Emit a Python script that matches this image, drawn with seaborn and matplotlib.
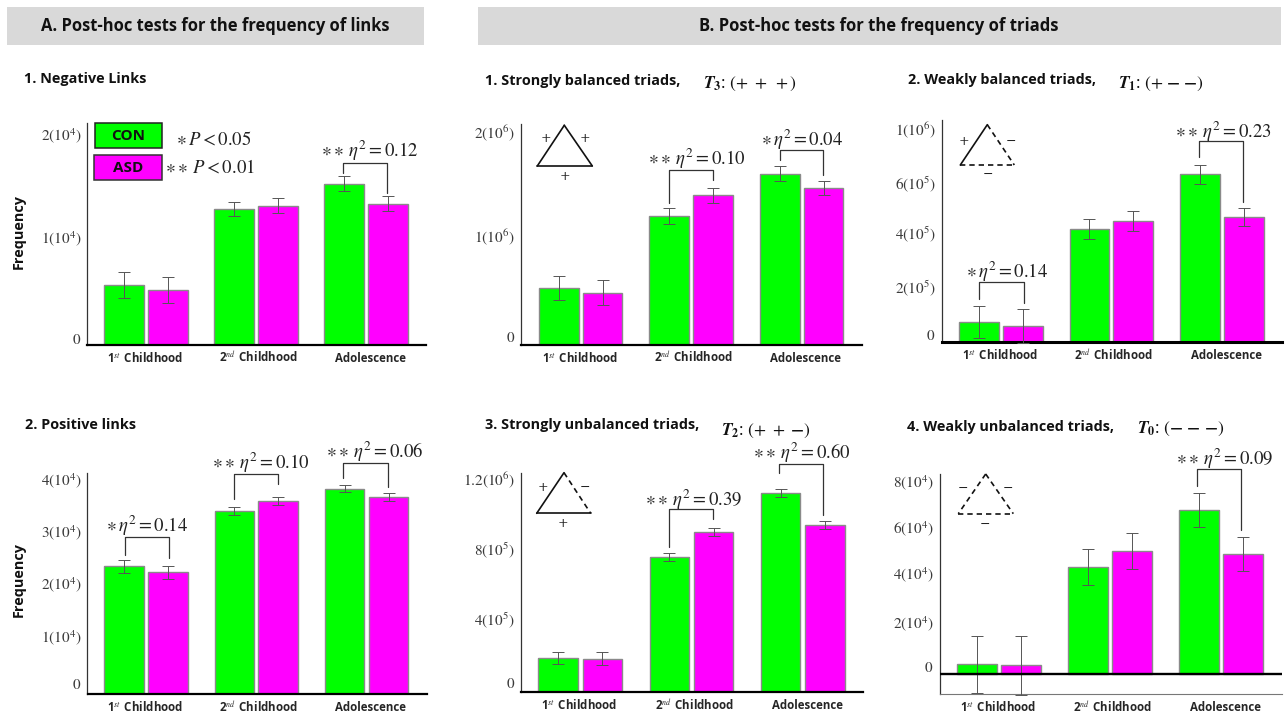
import matplotlib
matplotlib.use("Agg")
import matplotlib.pyplot as plt
from matplotlib.lines import Line2D
from matplotlib.patches import Rectangle
from matplotlib.transforms import ScaledTranslation
import pandas as pd
import seaborn as sns

sns.set_style("white")
plt.rcParams["font.family"] = ["Open Sans", "DejaVu Sans"]
plt.rcParams["mathtext.fontset"] = "stix"

W, H = 1285, 715
GREEN, MAGENTA = "#00ff00", "#ff00ff"

stages = [r"1$^{st}\,$ Childhood", r"2$^{nd}\,$ Childhood", "Adolescence"]
groups = ["CON", "ASD"]

# values
neg_con = [5840, 13240, 15680]
neg_asd = [5330, 13560, 13760]
neg_con_err = [1220, 700, 730]
neg_asd_err = [1280, 710, 730]

pos_con = [24380, 34860, 39160]
pos_asd = [23240, 36760, 37520]
pos_con_err = [1200, 760, 670]
pos_asd_err = [1240, 760, 760]

t3_con = [553000, 1250000, 1660000]
t3_asd = [505000, 1450000, 1519000]
t3_con_err = [118000, 74000, 71000]
t3_asd_err = [123000, 73000, 68000]

t1_con = [76900, 434600, 646000]
t1_asd = [61500, 466500, 482000]
t1_con_err = [61500, 37800, 35300]
t1_asd_err = [65400, 37800, 35900]

t2_con = [196000, 775000, 1139000]
t2_asd = [192000, 916000, 956000]
t2_con_err = [37100, 22900, 21000]
t2_asd_err = [38000, 21900, 22900]

t0_con = [4260, 45630, 69940]
t0_asd = [3840, 52700, 51300]
t0_con_err = [12150, 7600, 7180]
t0_asd_err = [12580, 7600, 7250]


def fx(x):
    return x / W


def fy(y):
    return 1 - y / H


# axis geometry in px: left, right, top, bottom, zero line, first group centre, spacing, px per unit
panels = [
    dict(con=neg_con, asd=neg_asd, ce=neg_con_err, ae=neg_asd_err, L=87.5, R=426, T=123.3, B=345, Z=345,
         c0=146, step=110, ppu=102.7 / 1e4, ticks=[0, 1e4, 2e4],
         labels=["$0$", "$1(10^{4})$", "$2(10^{4})$"], offs=[6.7, 6.3, 6.6], lw=1.6),
    dict(con=pos_con, asd=pos_asd, ce=pos_con_err, ae=pos_asd_err, L=87.5, R=427, T=472.7, B=694.3, Z=694.3,
         c0=146, step=110.3, ppu=52.5 / 1e4, ticks=[0, 1e4, 2e4, 3e4, 4e4],
         labels=["$0$", "$1(10^{4})$", "$2(10^{4})$", "$3(10^{4})$", "$4(10^{4})$"],
         offs=[11, 6.5, 7, 6.8, 6.6], lw=1.6),
    dict(con=t3_con, asd=t3_asd, ce=t3_con_err, ae=t3_asd_err, L=521.3, R=862.3, T=124, B=344.7, Z=344.7,
         c0=580.7, step=110.5, ppu=103 / 1e6, ticks=[0, 1e6, 2e6],
         labels=["$0$", "$1(10^{6})$", "$2(10^{6})$"], offs=[8.7, 7.4, 8.4], lw=1.6),
    dict(con=t1_con, asd=t1_asd, ce=t1_con_err, ae=t1_asd_err, L=941.7, R=1282.3, T=120, B=342.3, Z=342.3,
         c0=1000.8, step=110.5, ppu=26 / 1e5, ticks=[0, 2e5, 4e5, 6e5, 8e5],
         labels=["$0$", "$2(10^{5})$", "$4(10^{5})$", "$6(10^{5})$", "$1(10^{6})$"],
         offs=[8.3, 4.3, 6, 4, 6.6], lw=2.2),
    dict(con=t2_con, asd=t2_asd, ce=t2_con_err, ae=t2_asd_err, L=521, R=863.3, T=472.7, B=692.3, Z=692.3,
         c0=580.3, step=111.2, ppu=17.5 / 1e5, ticks=[0, 4e5, 8e5, 1.2e6],
         labels=["$0$", "$4(10^{5})$", "$8(10^{5})$", "$1.2(10^{6})$"], offs=[9.6, 4.6, 4.6, 4.6], lw=1.6),
    dict(con=t0_con, asd=t0_asd, ce=t0_con_err, ae=t0_asd_err, L=939.7, R=1282.3, T=474, B=694.3, Z=674.3,
         c0=998.8, step=111, ppu=23.45 / 1e4, ticks=[0, 2e4, 4e4, 6e4, 8e4],
         labels=["$0$", "$2(10^{4})$", "$4(10^{4})$", "$6(10^{4})$", "$8(10^{4})$"],
         offs=[7.3, 6.7, 8.2, 7.6, 6.7], lw=1.0),
]

xlabel_offs = [-1, 2.6, 4.3]

fig = plt.figure(figsize=(W / 100, H / 100), dpi=100, facecolor="white")

for p in panels:
    ax = fig.add_axes([fx(p["L"]), fy(p["B"]), (p["R"] - p["L"]) / W, (p["B"] - p["T"]) / H])
    df = pd.DataFrame({
        "stage": stages * 2,
        "group": [groups[0]] * 3 + [groups[1]] * 3,
        "value": p["con"] + p["asd"],
    })
    sns.barplot(data=df, x="stage", y="value", hue="group", order=stages, hue_order=groups,
                palette=[GREEN, MAGENTA], saturation=1, width=0.795, gap=0.1, errorbar=None, legend=False,
                edgecolor="#8a8a8a", linewidth=1.0, ax=ax, zorder=2)
    for cont, errs in zip(ax.containers, [p["ce"], p["ae"]]):
        for bar, e in zip(cont, errs):
            ax.errorbar(bar.get_x() + bar.get_width() / 2, bar.get_height(), yerr=e, color="#555555",
                        elinewidth=0.7, capsize=4.3, capthick=0.7, zorder=3, clip_on=False)
    ax.set_xlim((p["L"] - p["c0"]) / p["step"], (p["R"] - p["c0"]) / p["step"])
    ax.set_ylim((p["Z"] - p["B"]) / p["ppu"], (p["Z"] - p["T"]) / p["ppu"])
    ax.set_xlabel("")
    ax.set_ylabel("")
    ax.set_yticks(p["ticks"], p["labels"])
    ax.set_xticks(range(3), stages)
    ax.tick_params(axis="y", length=0, pad=4.5, labelsize=11, labelcolor="#3a3a3a")
    ax.tick_params(axis="x", length=0, pad=12.2, labelsize=8.3)
    for lab, off in zip(ax.get_yticklabels(), p["offs"]):
        lab.set_transform(lab.get_transform() + ScaledTranslation(0, off / 100, fig.dpi_scale_trans))
    for lab, off in zip(ax.get_xticklabels(), xlabel_offs):
        lab.set_fontweight("bold")
        lab.set_va("baseline")
        lab.set_transform(lab.get_transform() + ScaledTranslation(off / 100, 0, fig.dpi_scale_trans))
    for s in ["top", "right"]:
        ax.spines[s].set_visible(False)
    ax.spines["left"].set_color("#333333")
    ax.spines["left"].set_linewidth(0.9)
    if p["Z"] == p["B"]:
        ax.spines["bottom"].set_color("black")
        ax.spines["bottom"].set_linewidth(p["lw"])
    else:
        ax.spines["bottom"].set_color("#777777")
        ax.spines["bottom"].set_linewidth(0.8)
        ax.axhline(0, color="black", lw=1.7, zorder=4)
    ax.patch.set_alpha(0)


def text(x, y, s, **kw):
    kw.setdefault("ha", "center")
    kw.setdefault("va", "center")
    fig.text(fx(x), fy(y), s, **kw)


def line(xs, ys, **kw):
    kw.setdefault("color", "#333333")
    kw.setdefault("lw", 0.9)
    fig.add_artist(Line2D([fx(x) for x in xs], [fy(y) for y in ys], transform=fig.transFigure, **kw))


def box(x0, y0, x1, y1, **kw):
    fig.add_artist(Rectangle((fx(x0), fy(y1)), (x1 - x0) / W, (y1 - y0) / H, transform=fig.transFigure, **kw))


# section headers
box(7, 7, 424, 45, facecolor="#d9d9d9", edgecolor="none", zorder=0)
box(478, 7, 1281, 45, facecolor="#d9d9d9", edgecolor="none", zorder=0)
text(215, 26, "A. Post-hoc tests for the frequency of links", fontsize=11.9, fontweight="bold", color="#111111")
text(879, 26, "B. Post-hoc tests for the frequency of triads", fontsize=12, fontweight="bold", color="#111111")

# panel titles
titles = [
    (24.3, 79, "1. Negative Links"),
    (25, 425, "2. Positive links"),
    (485, 81, "1. Strongly balanced triads,"),
    (907.7, 80, "2. Weakly balanced triads,"),
    (485, 425.5, "3. Strongly unbalanced triads,"),
    (906.7, 426.5, "4. Weakly unbalanced triads,"),
]
for x, y, s in titles:
    text(x, y, s, ha="left", fontsize=10.4, fontweight="bold", color="#111111")

formulas = [
    (703.3, 83.5, r"$\mathbfit{T}_{\mathbf{3}}$: $(+\ +\ +)$"),
    (1118.3, 83.5, r"$\mathbfit{T}_{\mathbf{1}}$: $(+\ \mathbf{-}\ \mathbf{-})$"),
    (720.7, 431, r"$\mathbfit{T}_{\mathbf{2}}$: $(+\ +\ \mathbf{-})$"),
    (1136.7, 428.5, r"$\mathbfit{T}_{\mathbf{0}}$: $(\mathbf{-}\ \mathbf{-}\ \mathbf{-})$"),
]
for x, y, s in formulas:
    text(x, y, s, ha="left", fontsize=12.5, color="#111111")

text(19, 232, "Frequency", rotation=90, fontsize=10.4, fontweight="bold", color="#111111")
text(19, 580, "Frequency", rotation=90, fontsize=10.4, fontweight="bold", color="#111111")

# legend boxes
box(95, 123.3, 162, 148.3, facecolor=GREEN, edgecolor="#222222", lw=1.1)
box(94.3, 155.3, 162, 179.7, facecolor=MAGENTA, edgecolor="#333333", lw=1.1)
text(128, 136, "CON", fontsize=11, fontweight="bold", color="#111111")
text(128, 168, "ASD", fontsize=11, fontweight="bold", color="#111111")
text(213.5, 140, r"$\ast\,P < 0.05$", fontsize=13.5, color="#222222")
text(209.5, 168, r"$\ast\ast\,P < 0.01$", fontsize=13.5, color="#222222")

# significance brackets: x left, y left, y top, x right, y right, text x, text y, label
brackets = [
    (343.3, 173.3, 163.3, 386.7, 192.7, 369.7, 151, r"$\ast\ast\,\eta^{2} = 0.12$"),
    (125, 555, 537, 168.7, 557.7, 146.7, 525.7, r"$\ast\,\eta^{2} = 0.14$"),
    (234.3, 499, 474.3, 278, 484, 261, 463.3, r"$\ast\ast\,\eta^{2} = 0.10$"),
    (343.3, 478.3, 462.7, 387.7, 487.3, 374.7, 452.3, r"$\ast\ast\,\eta^{2} = 0.06$"),
    (669.3, 202.7, 170.3, 713.3, 180.3, 696.7, 159.3, r"$\ast\ast\,\eta^{2} = 0.10$"),
    (780, 159.7, 149.7, 823.3, 175, 801.7, 140, r"$\ast\,\eta^{2} = 0.04$"),
    (979.3, 299.3, 282, 1024, 302.7, 1007.3, 272.3, r"$\ast\,\eta^{2} = 0.14$"),
    (1199.3, 157.3, 141, 1242.7, 202, 1223, 132, r"$\ast\ast\,\eta^{2} = 0.23$"),
    (669.3, 547.3, 509.3, 713.3, 519.3, 694, 500, r"$\ast\ast\,\eta^{2} = 0.39$"),
    (779.3, 473.3, 463.7, 823.3, 515, 801.7, 453.3, r"$\ast\ast\,\eta^{2} = 0.60$"),
    (1196.7, 485.7, 469, 1241.3, 530, 1224.3, 459.3, r"$\ast\ast\,\eta^{2} = 0.09$"),
]
for xl, yl, yt, xr, yr, tx, ty, s in brackets:
    line([xl, xl, xr, xr], [yl, yt, yt, yr], zorder=6)
    text(tx, ty, s, fontsize=13.5, color="#222222")

# triad glyphs: apex, left, right, edge styles (left, right, bottom), signs
triads = [
    ((564.3, 125.3), (537.3, 166), (592.3, 166), ("-", "-", "-"),
     [(545.7, 138.7, "+"), (584.7, 138.7, "+"), (565, 176.7, "+")]),
    ((987.3, 124.7), (960.3, 165), (1014.3, 165), ("-", "--", "--"),
     [(964.3, 141.3, "+"), (1011, 141.3, "\u2212"), (988, 174, "\u2212")]),
    ((564, 472.7), (536.7, 513.3), (590.7, 513.3), ("-", "--", "-"),
     [(542.7, 487.7, "+"), (585, 487.3, "\u2212"), (562.7, 523.3, "+")]),
    ((985.7, 474), (958.3, 513.7), (1013.3, 513.7), ("--", "--", "--"),
     [(962.7, 488.3, "\u2212"), (1008.3, 488.3, "\u2212"), (985, 524, "\u2212")]),
]
for apex, left, right, styles, signs in triads:
    dash = (0, (3.2, 2.4))
    edges = [(apex, left), (apex, right), (left, right)]
    for (a, b), st in zip(edges, styles):
        line([a[0], b[0]], [a[1], b[1]], color="#111111", lw=1.2, ls="-" if st == "-" else dash, zorder=6)
    for x, y, s in signs:
        text(x, y, s, fontsize=9, color="#222222", family="DejaVu Serif", zorder=6)

fig.savefig("out.png", dpi=100)
